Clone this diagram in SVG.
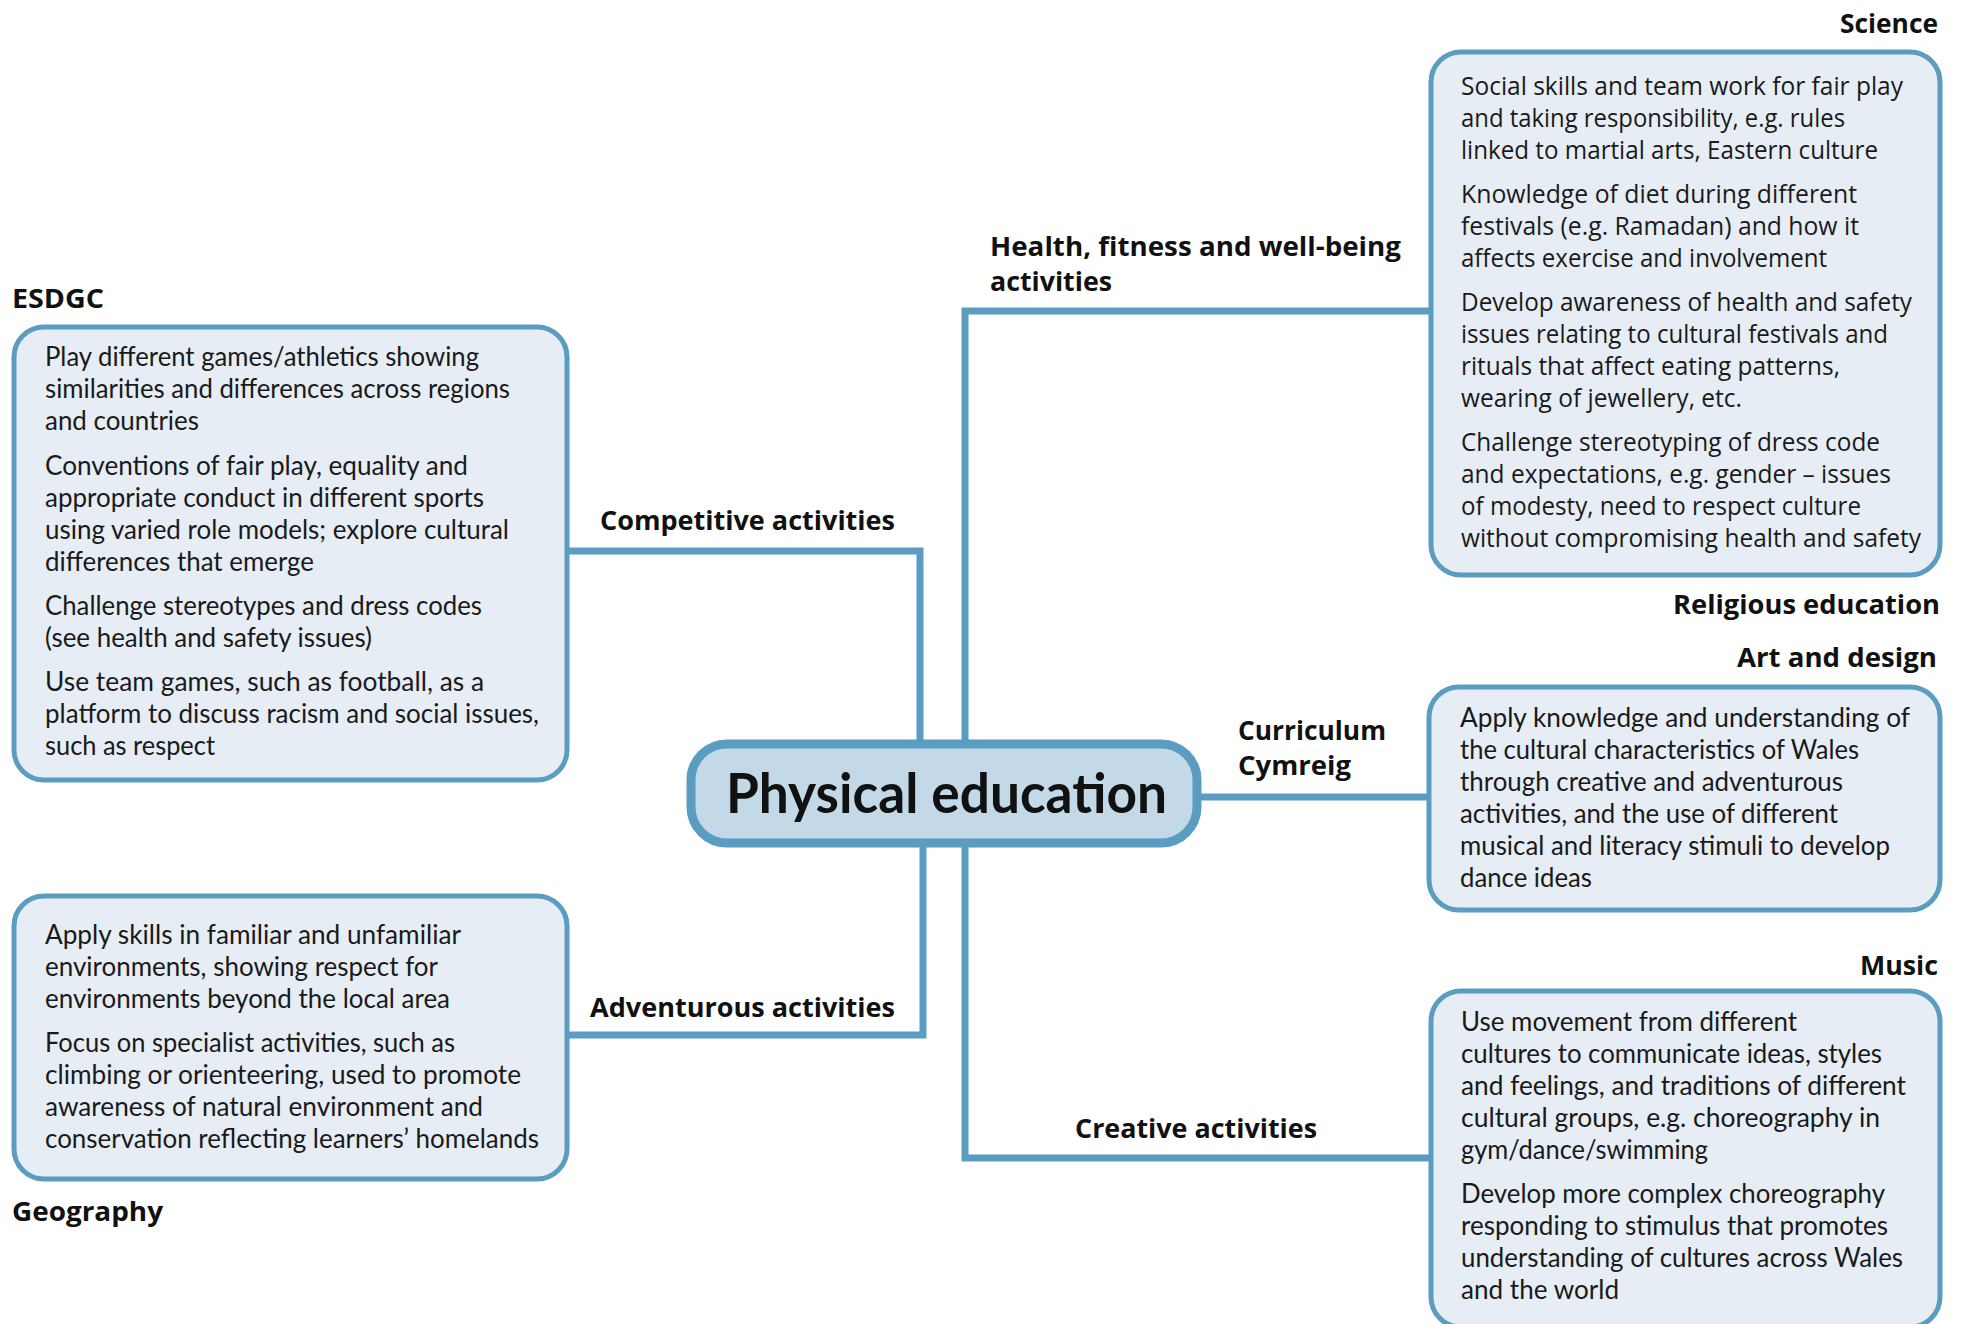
<svg xmlns="http://www.w3.org/2000/svg" width="1961" height="1324" viewBox="0 0 1961 1324">
  <defs>
    <style>
      .box { fill: #e6edf4; stroke: #5b9cc1; stroke-width: 5; }
      .hub { fill: #c3d9e8; stroke: #5b9cc1; stroke-width: 9; }
      .link { fill: none; stroke: #5b9cc1; stroke-width: 7; stroke-linejoin: miter; }
      .lbl { font-family: "Open Sans", "Liberation Sans", sans-serif; font-weight: 700; font-size: 27px; fill: #111; }
      .title { font-family: "Lato", "Open Sans", "Liberation Sans", sans-serif; font-weight: 700; font-size: 56px; fill: #111; }
      .narrow { font-family: "Lato", "Liberation Sans", sans-serif; font-size: 27px; fill: #1a1a1a; }
      .wide { font-family: "Open Sans", "Liberation Sans", sans-serif; font-size: 25px; fill: #1a1a1a; }
    </style>
  </defs>
  <rect width="1961" height="1324" fill="#ffffff"/>

  <!-- connectors from the hub to each activity box -->
  <g id="connectors">
    <path class="link" d="M569 551 H920 V740"/>
    <path class="link" d="M569 1035 H923 V847"/>
    <path class="link" d="M965 740 V311 H1429"/>
    <path class="link" d="M965 847 V1158 H1429"/>
    <path class="link" d="M1201 797 H1427"/>
  </g>

  <!-- connector captions -->
  <g id="labels">
    <text class="lbl" x="990" y="256" textLength="411" lengthAdjust="spacingAndGlyphs">Health, fitness and well-being</text>
    <text class="lbl" x="990" y="291" textLength="122" lengthAdjust="spacingAndGlyphs">activities</text>
    <text class="lbl" x="600" y="530" textLength="295" lengthAdjust="spacingAndGlyphs">Competitive activities</text>
    <text class="lbl" x="1238" y="740" textLength="148" lengthAdjust="spacingAndGlyphs">Curriculum</text>
    <text class="lbl" x="1238" y="775" textLength="113" lengthAdjust="spacingAndGlyphs">Cymreig</text>
    <text class="lbl" x="590" y="1017" textLength="305" lengthAdjust="spacingAndGlyphs">Adventurous activities</text>
    <text class="lbl" x="1075" y="1138" textLength="242" lengthAdjust="spacingAndGlyphs">Creative activities</text>
  </g>

  <!-- central node -->
  <g id="physical-education">
    <rect class="hub" x="691" y="744" width="506" height="99" rx="36"/>
    <text class="title" x="726" y="813" textLength="441" lengthAdjust="spacingAndGlyphs">Physical education</text>
  </g>

  <!-- ESDGC -->
  <g id="esdgc">
    <text class="lbl" x="12" y="308" textLength="92" lengthAdjust="spacingAndGlyphs">ESDGC</text>
    <rect class="box" x="14" y="327" width="553" height="453" rx="30"/>
    <text class="narrow" x="45" y="366" textLength="434" lengthAdjust="spacingAndGlyphs">Play different games/athletics showing</text>
    <text class="narrow" x="45" y="398" textLength="465" lengthAdjust="spacingAndGlyphs">similarities and differences across regions</text>
    <text class="narrow" x="45" y="430" textLength="154" lengthAdjust="spacingAndGlyphs">and countries</text>
    <text class="narrow" x="45" y="475" textLength="423" lengthAdjust="spacingAndGlyphs">Conventions of fair play, equality and</text>
    <text class="narrow" x="45" y="507" textLength="439" lengthAdjust="spacingAndGlyphs">appropriate conduct in different sports</text>
    <text class="narrow" x="45" y="539" textLength="464" lengthAdjust="spacingAndGlyphs">using varied role models; explore cultural</text>
    <text class="narrow" x="45" y="571" textLength="269" lengthAdjust="spacingAndGlyphs">differences that emerge</text>
    <text class="narrow" x="45" y="615" textLength="437" lengthAdjust="spacingAndGlyphs">Challenge stereotypes and dress codes</text>
    <text class="narrow" x="45" y="647" textLength="327" lengthAdjust="spacingAndGlyphs">(see health and safety issues)</text>
    <text class="narrow" x="45" y="691" textLength="439" lengthAdjust="spacingAndGlyphs">Use team games, such as football, as a</text>
    <text class="narrow" x="45" y="723" textLength="494" lengthAdjust="spacingAndGlyphs">platform to discuss racism and social issues,</text>
    <text class="narrow" x="45" y="755" textLength="170" lengthAdjust="spacingAndGlyphs">such as respect</text>
  </g>

  <!-- Geography -->
  <g id="geography">
    <rect class="box" x="14" y="896" width="553" height="283" rx="30"/>
    <text class="narrow" x="45" y="944" textLength="416" lengthAdjust="spacingAndGlyphs">Apply skills in familiar and unfamiliar</text>
    <text class="narrow" x="45" y="976" textLength="393" lengthAdjust="spacingAndGlyphs">environments, showing respect for</text>
    <text class="narrow" x="45" y="1008" textLength="405" lengthAdjust="spacingAndGlyphs">environments beyond the local area</text>
    <text class="narrow" x="45" y="1052" textLength="410" lengthAdjust="spacingAndGlyphs">Focus on specialist activities, such as</text>
    <text class="narrow" x="45" y="1084" textLength="476" lengthAdjust="spacingAndGlyphs">climbing or orienteering, used to promote</text>
    <text class="narrow" x="45" y="1116" textLength="438" lengthAdjust="spacingAndGlyphs">awareness of natural environment and</text>
    <text class="narrow" x="45" y="1148" textLength="494" lengthAdjust="spacingAndGlyphs">conservation reflecting learners’ homelands</text>
    <text class="lbl" x="12" y="1221" textLength="151" lengthAdjust="spacingAndGlyphs">Geography</text>
  </g>

  <!-- Science / Religious education -->
  <g id="science">
    <text class="lbl" x="1840" y="33" textLength="98" lengthAdjust="spacingAndGlyphs">Science</text>
    <rect class="box" x="1431" y="52" width="509" height="523" rx="30"/>
    <text class="wide" x="1461" y="95" textLength="442" lengthAdjust="spacingAndGlyphs">Social skills and team work for fair play</text>
    <text class="wide" x="1461" y="127" textLength="384" lengthAdjust="spacingAndGlyphs">and taking responsibility, e.g. rules</text>
    <text class="wide" x="1461" y="159" textLength="417" lengthAdjust="spacingAndGlyphs">linked to martial arts, Eastern culture</text>
    <text class="wide" x="1461" y="203" textLength="396" lengthAdjust="spacingAndGlyphs">Knowledge of diet during different</text>
    <text class="wide" x="1461" y="235" textLength="398" lengthAdjust="spacingAndGlyphs">festivals (e.g. Ramadan) and how it</text>
    <text class="wide" x="1461" y="267" textLength="366" lengthAdjust="spacingAndGlyphs">affects exercise and involvement</text>
    <text class="wide" x="1461" y="311" textLength="451" lengthAdjust="spacingAndGlyphs">Develop awareness of health and safety</text>
    <text class="wide" x="1461" y="343" textLength="427" lengthAdjust="spacingAndGlyphs">issues relating to cultural festivals and</text>
    <text class="wide" x="1461" y="375" textLength="379" lengthAdjust="spacingAndGlyphs">rituals that affect eating patterns,</text>
    <text class="wide" x="1461" y="407" textLength="281" lengthAdjust="spacingAndGlyphs">wearing of jewellery, etc.</text>
    <text class="wide" x="1461" y="451" textLength="419" lengthAdjust="spacingAndGlyphs">Challenge stereotyping of dress code</text>
    <text class="wide" x="1461" y="483" textLength="430" lengthAdjust="spacingAndGlyphs">and expectations, e.g. gender – issues</text>
    <text class="wide" x="1461" y="515" textLength="400" lengthAdjust="spacingAndGlyphs">of modesty, need to respect culture</text>
    <text class="wide" x="1461" y="547" textLength="460" lengthAdjust="spacingAndGlyphs">without compromising health and safety</text>
    <text class="lbl" x="1673" y="614" textLength="267" lengthAdjust="spacingAndGlyphs">Religious education</text>
  </g>

  <!-- Art and design -->
  <g id="art-and-design">
    <text class="lbl" x="1737" y="667" textLength="200" lengthAdjust="spacingAndGlyphs">Art and design</text>
    <rect class="box" x="1429" y="687" width="511" height="223" rx="30"/>
    <text class="narrow" x="1460" y="727" textLength="450" lengthAdjust="spacingAndGlyphs">Apply knowledge and understanding of</text>
    <text class="narrow" x="1460" y="759" textLength="399" lengthAdjust="spacingAndGlyphs">the cultural characteristics of Wales</text>
    <text class="narrow" x="1460" y="791" textLength="383" lengthAdjust="spacingAndGlyphs">through creative and adventurous</text>
    <text class="narrow" x="1460" y="823" textLength="378" lengthAdjust="spacingAndGlyphs">activities, and the use of different</text>
    <text class="narrow" x="1460" y="855" textLength="430" lengthAdjust="spacingAndGlyphs">musical and literacy stimuli to develop</text>
    <text class="narrow" x="1460" y="887" textLength="132" lengthAdjust="spacingAndGlyphs">dance ideas</text>
  </g>

  <!-- Music -->
  <g id="music">
    <text class="lbl" x="1860" y="975" textLength="78" lengthAdjust="spacingAndGlyphs">Music</text>
    <rect class="box" x="1431" y="991" width="509" height="336" rx="30"/>
    <text class="narrow" x="1461" y="1031" textLength="336" lengthAdjust="spacingAndGlyphs">Use movement from different</text>
    <text class="narrow" x="1461" y="1063" textLength="421" lengthAdjust="spacingAndGlyphs">cultures to communicate ideas, styles</text>
    <text class="narrow" x="1461" y="1095" textLength="445" lengthAdjust="spacingAndGlyphs">and feelings, and traditions of different</text>
    <text class="narrow" x="1461" y="1127" textLength="419" lengthAdjust="spacingAndGlyphs">cultural groups, e.g. choreography in</text>
    <text class="narrow" x="1461" y="1159" textLength="247" lengthAdjust="spacingAndGlyphs">gym/dance/swimming</text>
    <text class="narrow" x="1461" y="1203" textLength="424" lengthAdjust="spacingAndGlyphs">Develop more complex choreography</text>
    <text class="narrow" x="1461" y="1235" textLength="427" lengthAdjust="spacingAndGlyphs">responding to stimulus that promotes</text>
    <text class="narrow" x="1461" y="1267" textLength="442" lengthAdjust="spacingAndGlyphs">understanding of cultures across Wales</text>
    <text class="narrow" x="1461" y="1299" textLength="158" lengthAdjust="spacingAndGlyphs">and the world</text>
  </g>
</svg>
